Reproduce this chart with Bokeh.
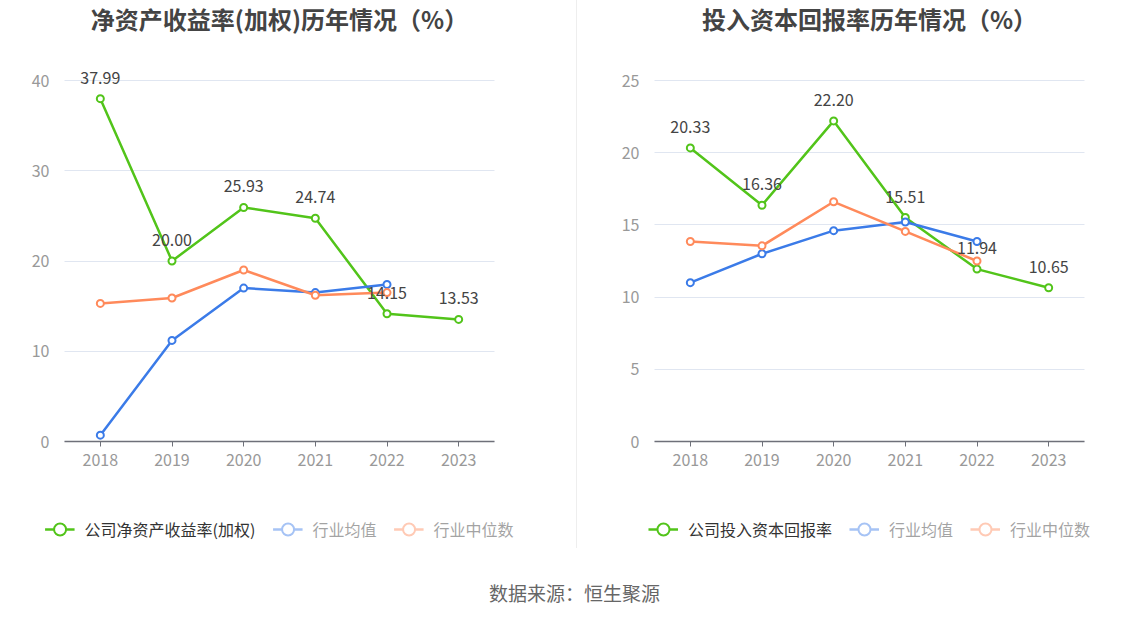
from bokeh.plotting import figure
from bokeh.models import (Range1d, FactorRange, FixedTicker, Legend, LegendItem,
                          ColumnDataSource, LabelSet, Label, Spacer)
from bokeh.layouts import row, column
from bokeh.embed import file_html
from bokeh.resources import INLINE
from bokeh.core.properties import value

years = ["2018", "2019", "2020", "2021", "2022", "2023"]
ind_years = ["2018", "2019", "2020", "2021", "2022"]

roe_company = [37.99, 20.00, 25.93, 24.74, 14.15, 13.53]
roe_ind_mean = [0.7, 11.2, 17.0, 16.5, 17.4]
roe_ind_median = [15.3, 15.9, 19.0, 16.2, 16.5]
roe_ticks = [0, 10, 20, 30, 40]

roic_company = [20.33, 16.36, 22.20, 15.51, 11.94, 10.65]
roic_ind_mean = [11.0, 13.0, 14.6, 15.2, 13.85]
roic_ind_median = [13.85, 13.55, 16.6, 14.55, 12.5]
roic_ticks = [0, 5, 10, 15, 20, 25]

roe_title = "净资产收益率(加权)历年情况（%）"
roic_title = "投入资本回报率历年情况（%）"
roe_label = "公司净资产收益率(加权)"
roic_label = "公司投入资本回报率"
mean_label = "行业均值"
median_label = "行业中位数"
source_text = ["数据来源：恒生聚源"]

GREEN = "#52c41a"
BLUE = "#3b7be8"
ORANGE = "#ff8a5b"
FONT = "Noto Sans CJK SC"

FIG_H = 548
PLOT_W = 430          # width of the category area
PLOT_TOP = 80         # pixel row of the top tick
PLOT_BOTTOM = 441     # pixel row of zero
TITLE_Y = 18          # pixel row of the title


def make_chart(title, company, mean, median, ticks, comp_label,
               fig_w, border_left, border_right):
    frame_w = fig_w - border_left - border_right
    step = PLOT_W / len(years)
    pad = (frame_w - PLOT_W) / 2 / step
    ppu = (PLOT_BOTTOM - PLOT_TOP) / ticks[-1]
    y_start = -(FIG_H - PLOT_BOTTOM) / ppu
    y_end = PLOT_BOTTOM / ppu
    p = figure(x_range=FactorRange(factors=years, range_padding=pad,
                                   range_padding_units="absolute"),
               y_range=Range1d(y_start, y_end),
               width=fig_w, height=FIG_H,
               min_border_left=border_left, min_border_right=border_right,
               min_border_top=0, min_border_bottom=0,
               toolbar_location=None, output_backend="svg")
    p.outline_line_color = None
    p.background_fill_color = "white"
    p.border_fill_color = "white"

    p.xgrid.grid_line_color = None
    p.ygrid.grid_line_color = "#e0e6f1"
    p.ygrid.grid_line_width = 1
    p.ygrid.cross_bounds = (0, len(years))

    p.yaxis.fixed_location = 0
    p.yaxis.ticker = FixedTicker(ticks=ticks)
    p.yaxis.axis_line_color = None
    p.yaxis.major_tick_line_color = None
    p.yaxis.minor_tick_line_color = None
    p.yaxis.major_label_standoff = 9
    p.yaxis.major_label_text_color = "#999999"
    p.yaxis.major_label_text_font = FONT
    p.yaxis.major_label_text_font_size = "16px"

    p.xaxis.fixed_location = 0
    p.xaxis.bounds = (0, len(years))
    p.xaxis.axis_line_color = "#6e7079"
    p.xaxis.axis_line_width = 1.5
    p.xaxis.major_tick_line_color = "#6e7079"
    p.xaxis.major_tick_out = 5
    p.xaxis.major_tick_in = 0
    p.xaxis.major_label_standoff = 7
    p.xaxis.major_label_text_color = "#999999"
    p.xaxis.major_label_text_font = FONT
    p.xaxis.major_label_text_font_size = "16px"

    p.add_layout(Label(x=len(years) / 2, y=(PLOT_BOTTOM - TITLE_Y) / ppu, text=title,
                       text_align="center", text_baseline="middle",
                       text_font=FONT, text_font_size="24px",
                       text_font_style="bold", text_color="#444444"))

    gl = p.line(years, company, line_color=GREEN, line_width=2.5)
    gs = p.scatter(years, company, marker="circle", size=7, line_color=GREEN,
                   fill_color="white", line_width=2)
    p.line(ind_years, mean, line_color=BLUE, line_width=2.5)
    p.scatter(ind_years, mean, marker="circle", size=7, line_color=BLUE,
              fill_color="white", line_width=2)
    p.line(ind_years, median, line_color=ORANGE, line_width=2.5)
    p.scatter(ind_years, median, marker="circle", size=7, line_color=ORANGE,
              fill_color="white", line_width=2)

    # legend-only renderers for the faded industry entries
    bl = p.line(ind_years, mean, line_color=BLUE, line_width=2.5, visible=False)
    bs = p.scatter(ind_years, mean, marker="circle", size=7, line_color=BLUE,
                   fill_color="white", line_width=2, visible=False)
    ol = p.line(ind_years, median, line_color=ORANGE, line_width=2.5, visible=False)
    os_ = p.scatter(ind_years, median, marker="circle", size=7, line_color=ORANGE,
                    fill_color="white", line_width=2, visible=False)

    src = ColumnDataSource(dict(x=years, y=company,
                                t=["%.2f" % v for v in company]))
    labels = LabelSet(x="x", y="y", text="t", source=src, y_offset=21,
                      text_align="center", text_baseline="middle",
                      text_font=value(FONT), text_font_size=value("16px"),
                      text_color=value("#444444"))
    p.add_layout(labels)

    legend = Legend(items=[LegendItem(label=comp_label, renderers=[gl, gs]),
                           LegendItem(label=mean_label, renderers=[bl, bs]),
                           LegendItem(label=median_label, renderers=[ol, os_])],
                    orientation="horizontal", location="bottom_center",
                    click_policy="hide", glyph_width=30, glyph_height=30,
                    label_standoff=10, spacing=17, padding=0, margin=4,
                    border_line_color=None, background_fill_alpha=0,
                    label_text_font=FONT, label_text_font_size="16px",
                    label_text_color="#333333",
                    inactive_fill_color="white", inactive_fill_alpha=0.55)
    p.add_layout(legend, "center")
    return p


p1 = make_chart(roe_title, roe_company, roe_ind_mean, roe_ind_median, roe_ticks,
                roe_label, 576, 0, 18)
p2 = make_chart(roic_title, roic_company, roic_ind_mean, roic_ind_median, roic_ticks,
                roic_label, 567, 17, 0)

sep = Spacer(width=1, height=FIG_H, styles={"background-color": "#eeeeee"})

p3 = figure(width=1144, height=66, x_range=Range1d(0, 1), y_range=Range1d(0, 1),
            toolbar_location=None, output_backend="svg", min_border=0,
            x_axis_location=None, y_axis_location=None)
p3.outline_line_color = None
p3.xgrid.visible = False
p3.ygrid.visible = False
p3.text(x=[574 / 1144], y=[0.333], text=source_text, text_align="center",
        text_baseline="middle", text_font_size="19px", text_color="#666666",
        text_font=value(FONT))

layout = column(row(p1, sep, p2), p3)
open("out.html", "w").write(file_html(layout, INLINE))
